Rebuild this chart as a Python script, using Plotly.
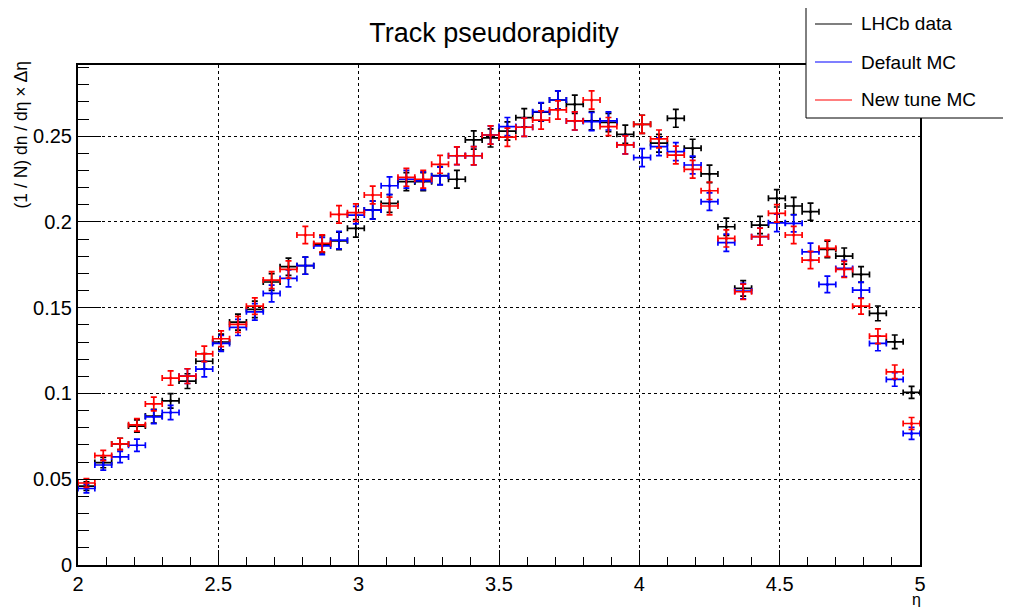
import plotly.graph_objects as go

# bin centres (bin width 0.06)
eta = [2.03, 2.09, 2.15, 2.21, 2.27, 2.33, 2.39, 2.45, 2.51, 2.57,
       2.63, 2.69, 2.75, 2.81, 2.87, 2.93, 2.99, 3.05, 3.11, 3.17,
       3.23, 3.29, 3.35, 3.41, 3.47, 3.53, 3.59, 3.65, 3.71, 3.77,
       3.83, 3.89, 3.95, 4.01, 4.07, 4.13, 4.19, 4.25, 4.31, 4.37,
       4.43, 4.49, 4.55, 4.61, 4.67, 4.73, 4.79, 4.85, 4.91, 4.97]

lhcb_data = [0.0460, 0.0597, 0.0706, 0.0810, 0.0868, 0.0957, 0.1072, 0.1188, 0.1300, 0.1416,
             0.1490, 0.1650, 0.1739, 0.1745, 0.1870, 0.1890, 0.1963, 0.2070, 0.2108, 0.2235,
             0.2235, 0.2270, 0.2249, 0.2478, 0.2490, 0.2530, 0.2608, 0.2640, 0.2711, 0.2686,
             0.2590, 0.2580, 0.2511, 0.2569, 0.2459, 0.2604, 0.2430, 0.2280, 0.1972, 0.1613,
             0.1982, 0.2138, 0.2093, 0.2060, 0.1840, 0.1801, 0.1694, 0.1467, 0.1301, 0.1006]

default_mc = [0.0446, 0.0583, 0.0630, 0.0698, 0.0864, 0.0889, 0.1101, 0.1142, 0.1292, 0.1385,
              0.1476, 0.1583, 0.1671, 0.1745, 0.1860, 0.1894, 0.2040, 0.2069, 0.2211, 0.2249,
              0.2240, 0.2268, 0.2386, 0.2386, 0.2507, 0.2556, 0.2552, 0.2643, 0.2711, 0.2589,
              0.2585, 0.2589, 0.2450, 0.2375, 0.2439, 0.2410, 0.2332, 0.2118, 0.1879, 0.1597,
              0.1914, 0.1995, 0.1992, 0.1826, 0.1636, 0.1729, 0.1603, 0.1292, 0.1082, 0.0767]

new_tune_mc = [0.0478, 0.0638, 0.0706, 0.0817, 0.0939, 0.1090, 0.1101, 0.1231, 0.1319, 0.1403,
               0.1509, 0.1661, 0.1723, 0.1924, 0.1875, 0.2044, 0.2054, 0.2157, 0.2093, 0.2260,
               0.2249, 0.2336, 0.2386, 0.2386, 0.2507, 0.2494, 0.2552, 0.2594, 0.2653, 0.2589,
               0.2711, 0.2556, 0.2449, 0.2569, 0.2484, 0.2390, 0.2307, 0.2182, 0.1904, 0.1593,
               0.1914, 0.2050, 0.1924, 0.1778, 0.1846, 0.1723, 0.1509, 0.1334, 0.1126, 0.0825]

# approximate vertical error (same for all three)
y_err = [0.0025, 0.0030, 0.0033, 0.0036, 0.0040, 0.0042, 0.0043, 0.0045, 0.0046, 0.0047,
         0.0048, 0.0049, 0.0050, 0.0050, 0.0050, 0.0051, 0.0051, 0.0052, 0.0052, 0.0052,
         0.0052, 0.0052, 0.0052, 0.0053, 0.0053, 0.0053, 0.0053, 0.0053, 0.0053, 0.0053,
         0.0053, 0.0053, 0.0053, 0.0053, 0.0052, 0.0052, 0.0052, 0.0051, 0.0050, 0.0045,
         0.0050, 0.0051, 0.0050, 0.0050, 0.0048, 0.0047, 0.0046, 0.0043, 0.0040, 0.0035]
half_bin = 0.03

series = [("LHCb data", lhcb_data, "#000000"),
          ("Default MC", default_mc, "#0000ff"),
          ("New tune MC", new_tune_mc, "#ff0000")]

FONT = "Liberation Sans, Arial, sans-serif"

fig = go.Figure()
for name, vals, col in series:
    fig.add_trace(go.Scatter(
        x=eta, y=vals, mode="markers", name=name, showlegend=False,
        marker=dict(color=col, size=3),
        error_x=dict(type="constant", value=half_bin, color=col, thickness=1.7, width=3),
        error_y=dict(type="data", array=y_err, color=col, thickness=1.7, width=3),
    ))

# pixel -> paper helpers (target plot area 78..920 x 65..565 in the screenshot)
def px(v):
    return (v - 78) / 842.0

def py(v):
    return (565 - v) / 500.0

shapes = []
annotations = []

# hand-drawn legend box, ROOT style (runs off the right edge, so no right border)
box_l, box_r, box_t, box_b = px(806), px(1040), py(3), py(118)
shapes.append(dict(type="rect", xref="paper", yref="paper",
                   x0=box_l, x1=box_r, y0=box_b, y1=box_t,
                   line=dict(width=0), fillcolor="white", layer="above"))
for x0, y0, x1, y1 in [(box_l, box_t, box_r, box_t), (box_l, box_b, box_r, box_b),
                       (box_l, box_b, box_l, box_t)]:
    shapes.append(dict(type="line", xref="paper", yref="paper", x0=x0, y0=y0, x1=x1, y1=y1,
                       line=dict(color="black", width=1), layer="above"))
for i, (name, vals, col) in enumerate(series):
    yy = py(24 + 38 * i)
    shapes.append(dict(type="line", xref="paper", yref="paper",
                       x0=px(815), x1=px(852), y0=yy, y1=yy,
                       line=dict(color=col, width=1.2), layer="above"))
    annotations.append(dict(text=name, xref="paper", yref="paper", x=px(859), y=yy,
                            xanchor="left", yanchor="middle", showarrow=False,
                            font=dict(family=FONT, size=19, color="black")))

# axis titles placed like ROOT (end-aligned)
annotations.append(dict(text="(1 / N) dn / dη × Δη", xref="paper", yref="paper",
                        x=px(20), y=py(60), xanchor="center", yanchor="top",
                        textangle=-90, showarrow=False,
                        font=dict(family=FONT, size=17.5, color="black")))
annotations.append(dict(text="η", xref="paper", yref="paper",
                        x=px(923), y=py(599), xanchor="right", yanchor="middle",
                        showarrow=False, font=dict(family=FONT, size=16, color="black")))

# the page body adds an 8px offset, so the figure is shrunk to fit the window
fig.update_layout(
    width=1003, height=599,
    margin=dict(l=70, r=91, t=57, b=42),
    paper_bgcolor="white", plot_bgcolor="white",
    title=dict(text="Track pseudorapidity", x=px(494), xref="paper", xanchor="center",
               y=1 - 25 / 599, yanchor="middle",
               font=dict(family=FONT, size=27, color="black")),
    shapes=shapes, annotations=annotations,
    showlegend=False,
)

axis_common = dict(showline=True, linecolor="black", linewidth=2, mirror=True,
                   showgrid=True, gridcolor="black", griddash="dot", gridwidth=1,
                   zeroline=False, ticks="inside", tickcolor="black", tickwidth=1,
                   tickfont=dict(family=FONT, size=20, color="black"))

fig.update_xaxes(range=[2, 5], dtick=0.5, tick0=2, ticklen=15,
                 minor=dict(dtick=0.1, ticks="inside", ticklen=8, tickcolor="black",
                            showgrid=False),
                 **axis_common)
fig.update_yaxes(range=[0, 0.2915], dtick=0.05, tick0=0, ticklen=23,
                 minor=dict(dtick=0.01, ticks="inside", ticklen=11, tickcolor="black",
                            showgrid=False),
                 **axis_common)

fig.write_html("out.html")
